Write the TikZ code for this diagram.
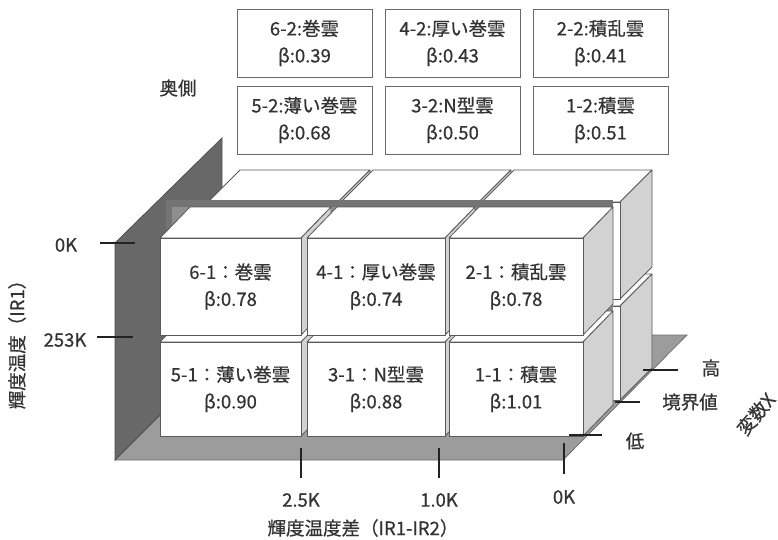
\documentclass[tikz,border=0pt]{standalone}
\usepackage{fontspec}
\setmainfont{Noto Sans CJK JP}[RawFeature={embolden=0.6}]
\definecolor{wallc}{HTML}{686868}
\definecolor{walle}{HTML}{505050}
\definecolor{floorc}{HTML}{9C9C9C}
\definecolor{floore}{HTML}{6E6E6E}
\definecolor{planeband}{HTML}{747474}
\definecolor{planec}{HTML}{8E8E8E}
\definecolor{sidec}{HTML}{D2D2D2}
\definecolor{edgec}{HTML}{5A5A5A}
\definecolor{tagc}{HTML}{6A6A6A}
\definecolor{txtc}{HTML}{333333}
\definecolor{tickc}{HTML}{222222}
% x0 y0 x1 y1 dx dy : front face rectangle plus top and right faces
\newcommand\mycube[6]{%
  \filldraw[boxface] (#1,#2) -- (#3,#2) -- ++(#5,-#6) -- ++({#1-#3},0) -- cycle;
  \filldraw[boxside] (#3,#2) -- ++(#5,-#6) -- ++(0,{#4-#2}) -- ++(-#5,#6) -- cycle;
  \filldraw[boxface] (#1,#2) rectangle (#3,#4);}
\begin{document}
\begin{tikzpicture}[x=1pt,y=-1pt,
  boxface/.style={fill=white,draw=edgec,line width=0.8pt,line join=round},
  boxside/.style={fill=sidec,draw=edgec,line width=0.8pt,line join=round},
  lbl/.style={font=\fontsize{18.5}{27}\selectfont,text=txtc,align=center,inner sep=0pt},
  tagbox/.style={draw=tagc,line width=1pt,fill=white,minimum width=135pt,minimum height=68pt},
  tickline/.style={draw=tickc,line width=2pt},
]
\useasboundingbox (0,0) rectangle (778,539);
% floor and wall
\filldraw[fill=floorc,draw=floore,line width=0.8pt] (115,460) -- (563,460) -- (687,335) -- (240,335) -- cycle;
\filldraw[fill=wallc,draw=walle,line width=0.8pt] (115,460) -- (115,243) -- (222,138) -- (222,353) -- cycle;
% back layer
\mycube{208}{306}{338}{400}{32}{32}
\mycube{341}{306}{479}{400}{32}{32}
\mycube{482}{306}{620}{400}{32}{32}
\mycube{208}{202}{338}{299}{32}{32}
\mycube{341}{202}{479}{299}{32}{32}
\mycube{482}{202}{620}{299}{32}{32}
% boundary plane
\fill[planeband] (166,200) rectangle (613,402);
\fill[planec] (172,207) rectangle (613,402);
% front layer
\mycube{160}{342}{301}{436}{30}{31}
\mycube{307}{342}{445}{436}{30}{31}
\mycube{449}{342}{583}{436}{30}{31}
\mycube{160}{238}{301}{335}{30}{31}
\mycube{307}{238}{445}{335}{30}{31}
\mycube{449}{238}{583}{335}{30}{31}
% front labels
\node[lbl] (f61) at (230.5,286.5) {6-1：巻雲\\β:0.78};
\node[lbl] (f41) at (376,286.5) {4-1：厚い巻雲\\β:0.74};
\node[lbl] (f21) at (516,286.5) {2-1：積乱雲\\β:0.78};
\node[lbl] (f51) at (230.5,389) {5-1：薄い巻雲\\β:0.90};
\node[lbl] (f31) at (376,389) {3-1：N型雲\\β:0.88};
\node[lbl] (f11) at (516,389) {1-1：積雲\\β:1.01};
% back labels
\node[lbl,tagbox] (t62) at (304.5,43) {6-2:巻雲\\β:0.39};
\node[lbl,tagbox] (t42) at (452.5,43) {4-2:厚い巻雲\\β:0.43};
\node[lbl,tagbox] (t22) at (600.5,43) {2-2:積乱雲\\β:0.41};
\node[lbl,tagbox] (t52) at (304.5,120) {5-2:薄い巻雲\\β:0.68};
\node[lbl,tagbox] (t32) at (452.5,120) {3-2:N型雲\\β:0.50};
\node[lbl,tagbox] (t12) at (600.5,120) {1-2:積雲\\β:0.51};
\node[lbl] (oku) at (178,88) {奥側};
% vertical axis
\draw[tickline] (100,243) -- (135,243);
\draw[tickline] (97,337) -- (133,337);
\node[lbl] (y0) at (66,245) {0K};
\node[lbl] (y253) at (65,340) {253K};
\node[lbl,rotate=90] (ytitle) at (17,340) {輝度温度（IR1）};
% horizontal axis
\draw[tickline] (301,448) -- (301,478);
\draw[tickline] (439,448) -- (439,478);
\draw[tickline] (564,443) -- (564,474);
\node[lbl] (x25) at (301,500) {2.5K};
\node[lbl] (x10) at (439,500) {1.0K};
\node[lbl] (x0) at (564,497) {0K};
\node[lbl] (xtitle) at (363,528) {輝度温度差（IR1-IR2）};
% depth axis
\draw[tickline] (569,435) -- (602,435);
\draw[tickline] (615,402) -- (640,402);
\draw[tickline] (643,370) -- (678,370);
\node[lbl] (zlo) at (635,441) {低};
\node[lbl] (zmid) at (690,402) {境界値};
\node[lbl] (zhi) at (711,368) {高};
\node[lbl,rotate=50] (ztitle) at (756,414) {変数X};
\end{tikzpicture}
\end{document}
